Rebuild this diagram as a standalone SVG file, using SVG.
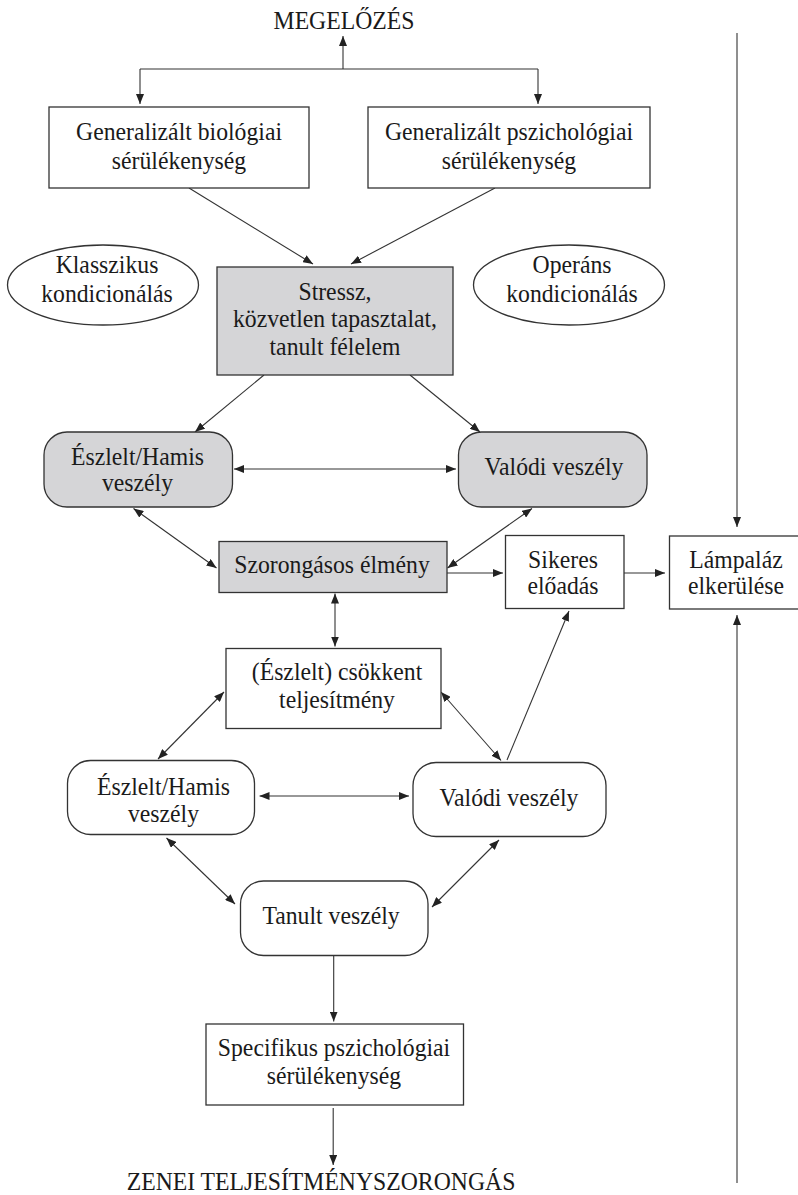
<svg xmlns="http://www.w3.org/2000/svg" width="798" height="1195" viewBox="0 0 798 1195">
<style>
.bx{fill:#ffffff;stroke:#333333;stroke-width:1.3}
.gr{fill:#d5d5d7;stroke:#333333;stroke-width:1.3}
text{font-size:25.5px;fill:#1a1a1a;text-anchor:middle}
.c line{stroke:#333333;stroke-width:1.1;fill:none}
.a{marker-end:url(#ah)}
.d{marker-end:url(#ah);marker-start:url(#ah)}
</style>
<defs>
<marker id="ah" markerUnits="userSpaceOnUse" markerWidth="10" markerHeight="8" refX="10" refY="4" orient="auto-start-reverse">
<path d="M0,0 L10,4 L0,8 z" fill="#222222"/>
</marker>
</defs>
<rect width="798" height="1195" fill="#ffffff"/>

<g id="connectors" class="c">
<line class="a" x1="343" y1="69" x2="343" y2="36"/>
<line x1="140" y1="69" x2="538" y2="69"/>
<line class="a" x1="140" y1="69" x2="140" y2="104"/>
<line class="a" x1="538" y1="69" x2="538" y2="104"/>
<line class="a" x1="189" y1="188" x2="313" y2="264"/>
<line class="a" x1="495" y1="188" x2="351" y2="264"/>
<line class="a" x1="264" y1="375" x2="195" y2="432"/>
<line class="a" x1="410" y1="375" x2="480" y2="432"/>
<line class="d" x1="234" y1="469" x2="456" y2="469"/>
<line class="d" x1="133.5" y1="508.5" x2="216.5" y2="568"/>
<line class="d" x1="532" y1="508.5" x2="447.5" y2="568"/>
<line class="a" x1="447" y1="573" x2="503" y2="573"/>
<line class="a" x1="624" y1="573" x2="665" y2="573"/>
<line class="a" x1="737" y1="33" x2="737" y2="527"/>
<line class="a" x1="737" y1="1183" x2="737" y2="615"/>
<line class="d" x1="335" y1="593.5" x2="335" y2="646.5"/>
<line class="d" x1="224" y1="692" x2="158" y2="759"/>
<line class="d" x1="441" y1="692" x2="501" y2="760.5"/>
<line class="a" x1="507" y1="760" x2="569" y2="611"/>
<line class="d" x1="259.5" y1="796" x2="409" y2="796"/>
<line class="d" x1="166.5" y1="838" x2="235" y2="904"/>
<line class="d" x1="499" y1="840" x2="432" y2="907"/>
<line class="a" x1="333.7" y1="955.5" x2="333.7" y2="1021.5"/>
<line class="a" x1="333.2" y1="1108" x2="333.2" y2="1165"/>
</g>

<g font-family="Liberation Serif, Times New Roman, DejaVu Serif, serif">
<g id="megelozes">
<text transform="translate(344,28.5) scale(0.93,1)">MEGELŐZÉS</text>
</g>

<g id="gen-bio">
<rect class="bx" x="49" y="107" width="260" height="81"/>
<text transform="translate(179,139.5) scale(0.93,1)">Generalizált biológiai</text>
<text transform="translate(179,168.5) scale(0.93,1)">sérülékenység</text>
</g>

<g id="gen-psy">
<rect class="bx" x="368" y="107" width="282" height="81"/>
<text transform="translate(509,139.5) scale(0.93,1)">Generalizált pszichológiai</text>
<text transform="translate(509,168.5) scale(0.93,1)">sérülékenység</text>
</g>

<g id="klasszikus">
<ellipse class="bx" cx="103" cy="285" rx="95.5" ry="40"/>
<text transform="translate(107,273) scale(0.93,1)">Klasszikus</text>
<text transform="translate(107,302) scale(0.93,1)">kondicionálás</text>
</g>

<g id="operans">
<ellipse class="bx" cx="569" cy="285" rx="95.5" ry="40"/>
<text transform="translate(572,273) scale(0.93,1)">Operáns</text>
<text transform="translate(572,302) scale(0.93,1)">kondicionálás</text>
</g>

<g id="stressz">
<rect class="gr" x="217" y="267" width="236" height="108"/>
<text transform="translate(335,300) scale(0.93,1)">Stressz,</text>
<text transform="translate(335,327) scale(0.93,1)">közvetlen tapasztalat,</text>
<text transform="translate(335,354.5) scale(0.93,1)">tanult félelem</text>
</g>

<g id="eszlelt1">
<rect class="gr" x="44" y="432" width="188.5" height="75" rx="23" ry="23"/>
<text transform="translate(137.5,464.5) scale(0.93,1)">Észlelt/Hamis</text>
<text transform="translate(137.5,490.5) scale(0.93,1)">veszély</text>
</g>

<g id="valodi1">
<rect class="gr" x="458.5" y="432" width="188.5" height="75" rx="23" ry="23"/>
<text transform="translate(554,474.5) scale(0.93,1)">Valódi veszély</text>
</g>

<g id="szorongasos">
<rect class="gr" x="219" y="541.5" width="228" height="51"/>
<text transform="translate(332,572.5) scale(0.93,1)">Szorongásos élmény</text>
</g>

<g id="sikeres">
<rect class="bx" x="505.5" y="535.5" width="118.5" height="73"/>
<text transform="translate(563,567.5) scale(0.93,1)">Sikeres</text>
<text transform="translate(563,594) scale(0.93,1)">előadás</text>
</g>

<g id="lampalaz">
<rect class="bx" x="669.5" y="536" width="140" height="73"/>
<text transform="translate(736,567.5) scale(0.93,1)">Lámpaláz</text>
<text transform="translate(736,594) scale(0.93,1)">elkerülése</text>
</g>

<g id="csokkent">
<rect class="bx" x="226" y="648.5" width="215" height="80"/>
<text transform="translate(337,680) scale(0.93,1)">(Észlelt) csökkent</text>
<text transform="translate(337,708) scale(0.93,1)">teljesítmény</text>
</g>

<g id="eszlelt2">
<rect class="bx" x="67.5" y="760.5" width="187" height="74" rx="23" ry="23"/>
<text transform="translate(163.5,795) scale(0.93,1)">Észlelt/Hamis</text>
<text transform="translate(163.5,821.5) scale(0.93,1)">veszély</text>
</g>

<g id="valodi2">
<rect class="bx" x="413" y="762.5" width="193" height="74" rx="23" ry="23"/>
<text transform="translate(509,806) scale(0.93,1)">Valódi veszély</text>
</g>

<g id="tanult">
<rect class="bx" x="240.5" y="881" width="187.5" height="74.5" rx="23" ry="23"/>
<text transform="translate(331,924) scale(0.93,1)">Tanult veszély</text>
</g>

<g id="specifikus">
<rect class="bx" x="206" y="1024" width="257.5" height="81"/>
<text transform="translate(334,1056) scale(0.93,1)">Specifikus pszichológiai</text>
<text transform="translate(334,1083.5) scale(0.93,1)">sérülékenység</text>
</g>

<g id="zenei">
<text transform="translate(321,1190) scale(0.93,1)">ZENEI TELJESÍTMÉNYSZORONGÁS</text>
</g>
</g>
</svg>
